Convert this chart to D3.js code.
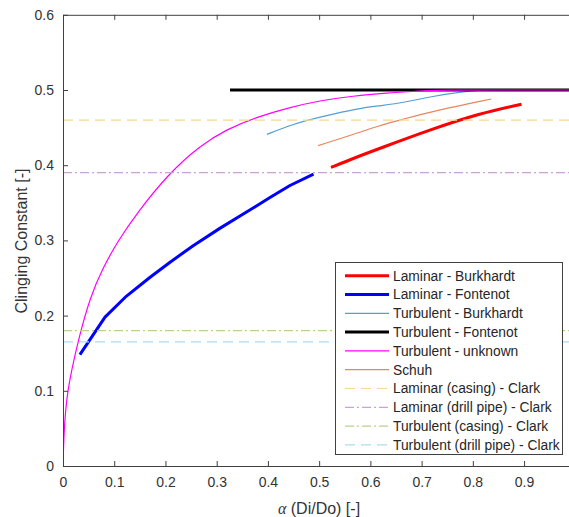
<!DOCTYPE html>
<html>
<head>
<meta charset="utf-8">
<script src="https://cdn.jsdelivr.net/npm/d3@7"></script>
<style>
  html, body { margin: 0; padding: 0; background: #fff; }
  svg { display: block; }
  text { font-family: "Liberation Sans", Arial, sans-serif; }
</style>
</head>
<body>
<script>
// ---- Data ----
const xTicks = [0, 0.1, 0.2, 0.3, 0.4, 0.5, 0.6, 0.7, 0.8, 0.9];
const xTickLabels = ["0", "0.1", "0.2", "0.3", "0.4", "0.5", "0.6", "0.7", "0.8", "0.9"];
const yTicks = [0, 0.1, 0.2, 0.3, 0.4, 0.5, 0.6];
const yTickLabels = ["0", "0.1", "0.2", "0.3", "0.4", "0.5", "0.6"];

const laminarBurkhardt = [[0.523,0.397],[0.570,0.410],[0.619,0.4225],[0.716,0.447],[0.814,0.469],[0.895,0.481]];
const laminarFontenot = [[0.033,0.148],[0.082,0.198],[0.124,0.226],[0.170,0.251],[0.209,0.271],[0.254,0.293],[0.306,0.316],[0.359,0.338],[0.404,0.357],[0.443,0.373],[0.489,0.388]];
const turbulentBurkhardt = [[0.398,0.441],[0.450,0.455],[0.502,0.464],[0.580,0.476],[0.619,0.479],[0.671,0.484],[0.716,0.491],[0.781,0.498],[0.820,0.500],[0.850,0.500]];
const turbulentFontenot = [[0.326,0.5],[1.0,0.5]];
const turbulentUnknown = [[0,0],[0.002,0.048],[0.0072,0.092],[0.017,0.128],[0.030,0.168],[0.053,0.225],[0.079,0.265],[0.108,0.300],[0.144,0.336],[0.205,0.388],[0.267,0.426],[0.320,0.448],[0.378,0.464],[0.437,0.476],[0.502,0.486],[0.566,0.492],[0.632,0.496],[0.697,0.499],[0.75,0.5],[0.85,0.5],[1.0,0.5]];
const schuh = [[0.498,0.426],[0.567,0.441],[0.619,0.453],[0.658,0.460],[0.716,0.471],[0.836,0.488]];
const clarkLaminarCasing = 0.46;
const clarkLaminarDrillPipe = 0.39;
const clarkTurbulentCasing = 0.18;
const clarkTurbulentDrillPipe = 0.165;

const seriesNames = [
  "Laminar - Burkhardt", "Laminar - Fontenot", "Turbulent - Burkhardt", "Turbulent - Fontenot",
  "Turbulent - unknown", "Schuh", "Laminar (casing) - Clark", "Laminar (drill pipe) - Clark",
  "Turbulent (casing) - Clark", "Turbulent (drill pipe) - Clark"
];

// ---- Styles ----
const styles = [
  { color: "#ff0000", width: 3, dash: null, curve: d3.curveBasis },
  { color: "#0000ff", width: 3, dash: null, curve: d3.curveLinear },
  { color: "#4fa0d8", width: 1.2, dash: null, curve: d3.curveBasis },
  { color: "#000000", width: 3, dash: null, curve: d3.curveLinear },
  { color: "#ff00ff", width: 1.2, dash: null, curve: d3.curveBasis },
  { color: "#e8875e", width: 1.2, dash: null, curve: d3.curveBasis },
  { color: "#f6d895", width: 1.2, dash: "10,6", curve: d3.curveLinear },
  { color: "#c9a3d6", width: 1.2, dash: "9,3,2,3", curve: d3.curveLinear },
  { color: "#b7d28c", width: 1.2, dash: "9,3,2,3", curve: d3.curveLinear },
  { color: "#a9dcf3", width: 1.2, dash: "10,6", curve: d3.curveLinear }
];

const W = 569, H = 517;
const svg = d3.select("body").append("svg").attr("width", W).attr("height", H);

const x = d3.scaleLinear().domain([0, 1]).range([63, 575.3]);
const y = d3.scaleLinear().domain([0, 0.6]).range([466, 14.8]);

const seriesData = [
  laminarBurkhardt, laminarFontenot, turbulentBurkhardt, turbulentFontenot, turbulentUnknown, schuh,
  [[0, clarkLaminarCasing], [1, clarkLaminarCasing]],
  [[0, clarkLaminarDrillPipe], [1, clarkLaminarDrillPipe]],
  [[0, clarkTurbulentCasing], [1, clarkTurbulentCasing]],
  [[0, clarkTurbulentDrillPipe], [1, clarkTurbulentDrillPipe]]
];

svg.append("defs").append("clipPath").attr("id", "clip")
  .append("rect").attr("x", x(0)).attr("y", y(0.6)).attr("width", x(1) - x(0)).attr("height", y(0) - y(0.6));

const plot = svg.append("g").attr("clip-path", "url(#clip)");
seriesData.forEach((d, i) => {
  const s = styles[i];
  const line = d3.line().x(p => x(p[0])).y(p => y(p[1])).curve(s.curve);
  plot.append("path").datum(d)
    .attr("d", line)
    .attr("fill", "none")
    .attr("stroke", s.color)
    .attr("stroke-width", s.width)
    .attr("stroke-dasharray", s.dash)
    .attr("stroke-linejoin", "round");
});

// ---- Axes ----
const axisColor = "#404040";
const fontSize = "14px";

const gx = svg.append("g").attr("transform", `translate(0,${y(0)})`)
  .call(d3.axisBottom(x).tickValues(xTicks).tickFormat((d, i) => xTickLabels[i]).tickSize(-5).tickSizeOuter(0).tickPadding(11));
const gxt = svg.append("g").attr("transform", `translate(0,${y(0.6)})`)
  .call(d3.axisTop(x).tickValues(xTicks).tickFormat("").tickSize(-5).tickSizeOuter(0));
const gy = svg.append("g").attr("transform", `translate(${x(0)},0)`)
  .call(d3.axisLeft(y).tickValues(yTicks).tickFormat((d, i) => yTickLabels[i]).tickSize(-5).tickSizeOuter(0).tickPadding(9));
const gyr = svg.append("g").attr("transform", `translate(${x(1)},0)`)
  .call(d3.axisRight(y).tickValues(yTicks).tickFormat("").tickSize(-5).tickSizeOuter(0));

[gx, gxt, gy, gyr].forEach(g => {
  g.selectAll("path.domain").attr("stroke", axisColor);
  g.selectAll(".tick line").attr("stroke", axisColor);
  g.selectAll(".tick text").attr("fill", "#333").style("font-size", fontSize)
    .style("font-family", '"Liberation Sans", Arial, sans-serif');
});

// ---- Axis labels ----
const xl = svg.append("text").attr("x", 319).attr("y", 514).attr("text-anchor", "middle")
  .attr("fill", "#333").style("font-size", "16px");
xl.append("tspan").text("α").style("font-style", "italic").style("font-family", '"Liberation Serif", "DejaVu Serif", serif');
xl.append("tspan").text(" (Di/Do) [-]");

svg.append("text").attr("transform", "translate(21,241) rotate(-90)").attr("text-anchor", "middle")
  .attr("dy", "0.35em").attr("fill", "#333").style("font-size", "16px").text("Clinging Constant [-]");

// ---- Legend ----
const lg = svg.append("g");
lg.append("rect").attr("x", 335.5).attr("y", 262.5).attr("width", 227).attr("height", 192)
  .attr("fill", "#fff").attr("stroke", "#404040").attr("stroke-width", 1);
seriesNames.forEach((name, i) => {
  const s = styles[i];
  const cy = 275.7 + i * 18.8;
  lg.append("line").attr("x1", 345).attr("x2", 389).attr("y1", cy).attr("y2", cy)
    .attr("stroke", s.color).attr("stroke-width", s.width).attr("stroke-dasharray", s.dash);
  lg.append("text").attr("x", 393).attr("y", cy).attr("dy", "0.36em")
    .attr("fill", "#262626").style("font-size", "13.8px").text(name);
});
</script>
</body>
</html>
